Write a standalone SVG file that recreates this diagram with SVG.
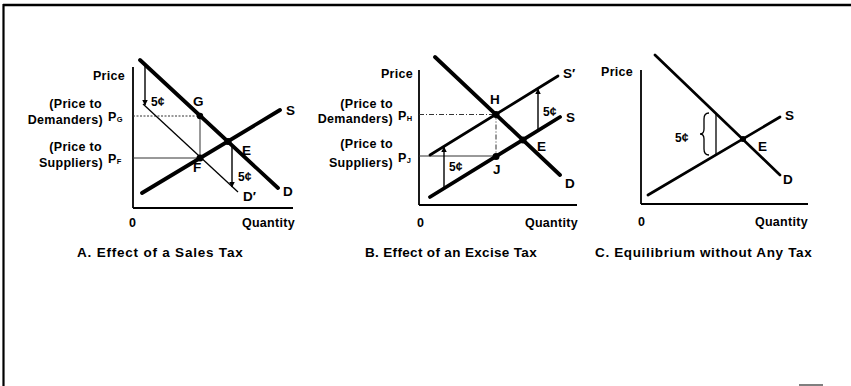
<svg xmlns="http://www.w3.org/2000/svg" width="851" height="386" viewBox="0 0 851 386">
<defs>
<marker id="ah" viewBox="0 0 10 10" refX="9" refY="5" markerWidth="5.5" markerHeight="5.5" orient="auto" markerUnits="userSpaceOnUse">
<path d="M0,0 L10,5 L0,10 z" fill="#000"/>
</marker>
<style>
text{font-family:"Liberation Sans",Arial,sans-serif;font-weight:bold;fill:#000;font-size:12.5px;letter-spacing:0.3px}
.r{text-anchor:end}
.pt{font-size:13.5px;letter-spacing:0}
.c{font-size:12px;letter-spacing:0}
.t{font-size:13.5px}
.sub{font-size:7.5px;letter-spacing:0}
.axis{stroke:#000;stroke-width:1.8;fill:none}
.thick{stroke:#000;stroke-width:3.8;fill:none;stroke-linecap:round}
.med{stroke:#000;stroke-width:2.7;fill:none;stroke-linecap:round}
.thin{stroke:#000;stroke-width:1.3;fill:none}
.guide{stroke:#333;stroke-width:1;fill:none}
.dot{stroke:#333;stroke-width:1;stroke-dasharray:2 1.5;fill:none}
.dash{stroke:#333;stroke-width:1;stroke-dasharray:5 2 1 2;fill:none}
.arr{stroke:#000;stroke-width:1.4;fill:none;marker-end:url(#ah)}
</style>
</defs>
<rect width="851" height="386" fill="#fff"/>
<!-- frame -->
<line x1="3" y1="5" x2="851" y2="5" stroke="#000" stroke-width="2.6"/>
<line x1="3.5" y1="4" x2="3.5" y2="386" stroke="#000" stroke-width="2.2"/>
<line x1="799" y1="385" x2="823" y2="385" stroke="#555" stroke-width="1.5"/>

<!-- Panel A -->
<g id="panelA">
<g id="A-axes">
<line class="axis" x1="133" y1="67" x2="133" y2="208"/>
<line class="axis" x1="133" y1="208" x2="293" y2="208"/>
</g>
<g id="A-connectors">
<line class="dot" x1="133" y1="116" x2="200" y2="116"/>
<line class="guide" x1="133" y1="158" x2="200" y2="158"/>
<line class="guide" x1="200" y1="116" x2="200" y2="158"/>
<line class="thin" x1="143" y1="104" x2="238" y2="192"/>
<line class="thick" x1="140" y1="60" x2="278" y2="188"/>
<line class="thick" x1="142" y1="193" x2="280" y2="110"/>
<line class="arr" x1="145" y1="65" x2="145" y2="105"/>
<line class="arr" x1="232" y1="146" x2="232" y2="187"/>
</g>
<g id="A-E"><circle cx="228" cy="141.5" r="3.5"/><text class="pt" x="242" y="155">E</text></g>
<g id="A-G"><circle cx="200" cy="116" r="3.2"/><text class="pt" x="193" y="106">G</text></g>
<g id="A-F"><circle cx="200" cy="158" r="3.5"/><text class="pt" x="193" y="172">F</text></g>
<text class="pt" x="286" y="115">S</text>
<text class="pt" x="283" y="196">D</text>
<text class="pt" x="243" y="201">D′</text>
<text class="c" x="151" y="106">5¢</text>
<text class="c" x="238" y="181">5¢</text>
<text class="r" x="125" y="80">Price</text>
<text class="r" x="102" y="108">(Price to</text>
<text class="r" x="103" y="124">Demanders)</text>
<text x="108" y="121">P<tspan class="sub" dy="1">G</tspan></text>
<text class="r" x="102" y="151">(Price to</text>
<text class="r" x="103" y="167">Suppliers)</text>
<text x="108" y="163">P<tspan class="sub" dy="1">F</tspan></text>
<text x="129" y="227">0</text>
<text class="r" x="295" y="227">Quantity</text>
<text class="t" x="77" y="257" textLength="166" lengthAdjust="spacing">A.  Effect of a Sales Tax</text>
</g>

<!-- Panel B -->
<g id="panelB">
<g id="B-axes">
<line class="axis" x1="419" y1="70" x2="419" y2="205"/>
<line class="axis" x1="419" y1="205" x2="577" y2="205"/>
</g>
<g id="B-connectors">
<line class="dash" x1="419" y1="114.5" x2="496" y2="114.5"/>
<line class="guide" x1="419" y1="156" x2="496" y2="156"/>
<line class="dash" x1="496" y1="114.5" x2="496" y2="156"/>
<line class="thick" x1="435" y1="57" x2="560" y2="175"/>
<line class="med" x1="430" y1="155" x2="558" y2="76"/>
<line class="thick" x1="430" y1="197" x2="560" y2="117"/>
<line class="arr" x1="444" y1="188" x2="444" y2="147"/>
<line class="arr" x1="538" y1="130" x2="538" y2="89"/>
</g>
<g id="B-H"><circle cx="496" cy="114.5" r="3.5"/><text class="pt" x="490" y="104">H</text></g>
<g id="B-E"><circle cx="523" cy="140" r="3.5"/><text class="pt" x="537" y="151">E</text></g>
<g id="B-J"><circle cx="496" cy="156.5" r="3.5"/><text class="pt" x="493" y="174">J</text></g>
<text class="pt" x="563" y="78">S′</text>
<text class="pt" x="566" y="122">S</text>
<text class="pt" x="565" y="188">D</text>
<text class="c" x="449" y="171">5¢</text>
<text class="c" x="543" y="116">5¢</text>
<text class="r" x="413" y="78">Price</text>
<text class="r" x="393" y="108">(Price to</text>
<text class="r" x="393" y="123">Demanders)</text>
<text x="398" y="120">P<tspan class="sub" dy="1">H</tspan></text>
<text class="r" x="393" y="148">(Price to</text>
<text class="r" x="393" y="167">Suppliers)</text>
<text x="398" y="162">P<tspan class="sub" dy="1">J</tspan></text>
<text x="417" y="227">0</text>
<text class="r" x="578" y="227">Quantity</text>
<text class="t" x="365" y="257" textLength="172" lengthAdjust="spacing">B.  Effect of an Excise Tax</text>
</g>

<!-- Panel C -->
<g id="panelC">
<g id="C-axes">
<line class="axis" x1="641" y1="70" x2="641" y2="204"/>
<line class="axis" x1="641" y1="204" x2="808" y2="204"/>
</g>
<g id="C-connectors">
<line class="med" x1="655" y1="55" x2="780" y2="175"/>
<line class="med" x1="648" y1="195" x2="780" y2="117"/>
<line class="thin" x1="716" y1="114" x2="716" y2="155"/>
<path class="thin" d="M709,113 Q704,113 704,119 L704,129 Q704,134 700,134 Q704,134 704,139 L704,149 Q704,155 709,155" stroke-width="1.1"/>
</g>
<g id="C-E"><circle cx="743" cy="139" r="3"/><text class="pt" x="758" y="151">E</text></g>
<text class="pt" x="785" y="120">S</text>
<text class="pt" x="783" y="184">D</text>
<text class="c" x="675" y="142" font-size="11">5¢</text>
<text x="601" y="76">Price</text>
<text x="638" y="226">0</text>
<text class="r" x="808" y="226">Quantity</text>
<text class="t" x="595" y="257" textLength="217" lengthAdjust="spacing">C.  Equilibrium without Any Tax</text>
</g>
</svg>
